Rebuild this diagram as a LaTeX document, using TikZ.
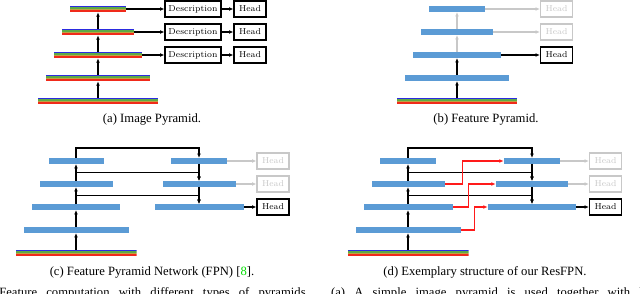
\documentclass[tikz,border=0pt]{standalone}
\usepackage{fontspec}
\usetikzlibrary{arrows.meta,positioning,calc}
\newfontfamily\capfont{Liberation Serif}
\definecolor{PyrBlue}{HTML}{5B9BD5}
\definecolor{PyrGrey}{HTML}{C8C8C8}
\definecolor{PyrRed}{HTML}{FF1A1A}
\definecolor{ImgBlue}{HTML}{2B2BE0}
\definecolor{ImgGreen}{HTML}{5DAA46}
\definecolor{ImgOlive}{HTML}{C0A040}
\definecolor{ImgRed}{HTML}{F02A1A}
\definecolor{CiteGreen}{HTML}{00DD00}
\tikzset{
  feat/.style={fill=PyrBlue, inner sep=0pt, minimum height=5.5*0.7875bp, minimum width=#1*0.7875bp},
  imgbar/.style={inner sep=0pt, minimum height=6*0.7875bp, minimum width=#1*0.7875bp,
    path picture={
      \foreach \c [count=\i] in {ImgBlue,ImgGreen,ImgOlive,ImgRed}
        \fill[\c] ($(path picture bounding box.north west)!{(\i-1)/4}!(path picture bounding box.south west)$)
          rectangle ($(path picture bounding box.north east)!{\i/4}!(path picture bounding box.south east)$);
    }},
  blk/.style={draw=black, line width=0.8pt, minimum height=16*0.7875bp, inner sep=0pt,
              font=\fontsize{6.8}{8}\selectfont},
  descbox/.style={blk, minimum width=56*0.7875bp},
  headbox/.style={blk, minimum width=32*0.7875bp},
  ghost/.style={draw=PyrGrey, text=PyrGrey},
  flow/.style={-{Latex[length=3.5bp,width=3bp]}, line width=0.9bp},
  faded/.style={flow, draw=PyrGrey},
  res/.style={flow, draw=PyrRed},
  captxt/.style={font=\capfont\fontsize{10}{12}\selectfont},
}

\begin{document}
\begin{tikzpicture}[x=0.7875bp, y=-0.7875bp]
  \useasboundingbox (0,0) rectangle (640,294);
  \clip (0,0) rectangle (640,294);

  % (a) image pyramid
  \node[imgbar=56]  (a1) at (98,9) {};
  \node[imgbar=72]  (a2) at (98,32) {};
  \node[imgbar=88]  (a3) at (98,55) {};
  \node[imgbar=104] (a4) at (98,78) {};
  \node[imgbar=120] (a5) at (98,101) {};
  \node[descbox] (ad1) at (193,9) {Description};
  \node[descbox] (ad2) at (193,32) {Description};
  \node[descbox] (ad3) at (193,55) {Description};
  \node[headbox] (ah1) at (250,9) {Head};
  \node[headbox] (ah2) at (250,32) {Head};
  \node[headbox] (ah3) at (250,55) {Head};
  \draw[flow] (a5.north) -- (a4.south);
  \draw[flow] (a4.north) -- (a3.south);
  \draw[flow] (a3.north) -- (a2.south);
  \draw[flow] (a2.north) -- (a1.south);
  \draw[flow] (a1.east) -- (ad1.west);
  \draw[flow] (a2.east) -- (ad2.west);
  \draw[flow] (a3.east) -- (ad3.west);
  \draw[flow] (ad1.east) -- (ah1.west);
  \draw[flow] (ad2.east) -- (ah2.west);
  \draw[flow] (ad3.east) -- (ah3.west);
  \node[captxt] (capa) at (152,119) {(a) Image Pyramid.};

  % (b) feature pyramid
  \node[feat=56]    (b1) at (457,9) {};
  \node[feat=72]    (b2) at (457,32) {};
  \node[feat=88]    (b3) at (457,55) {};
  \node[feat=104]   (b4) at (457,78) {};
  \node[imgbar=120] (b5) at (457,101) {};
  \node[headbox, ghost] (bh1) at (556.5,9) {Head};
  \node[headbox, ghost] (bh2) at (556.5,32) {Head};
  \node[headbox] (bh3) at (556.5,55) {Head};
  \draw[flow] (b5.north) -- (b4.south);
  \draw[flow] (b4.north) -- (b3.south);
  \draw[faded] (b3.north) -- (b2.south);
  \draw[faded] (b2.north) -- (b1.south);
  \draw[faded] (b1.east) -- (bh1.west);
  \draw[faded] (b2.east) -- (bh2.west);
  \draw[flow] (b3.east) -- (bh3.west);
  \node[captxt] (capb) at (486,119) {(b) Feature Pyramid.};

  % (c) FPN
  \node[feat=55]    (cl1) at (76,161) {};
  \node[feat=73]    (cl2) at (76,184) {};
  \node[feat=88]    (cl3) at (76,207) {};
  \node[feat=105]   (cl4) at (76,230) {};
  \node[imgbar=121] (cl5) at (76,253) {};
  \node[feat=56] (cr1) at (199,161) {};
  \node[feat=73] (cr2) at (199,184) {};
  \node[feat=89] (cr3) at (199,207) {};
  \node[headbox, ghost] (ch1) at (273,161) {Head};
  \node[headbox, ghost] (ch2) at (273,184) {Head};
  \node[headbox] (ch3) at (273,207) {Head};
  \draw[flow] (cl5.north) -- (cl4.south);
  \draw[flow] (cl4.north) -- (cl3.south);
  \draw[flow] (cl3.north) -- (cl2.south);
  \draw[flow] (cl2.north) -- (cl1.south);
  \draw[flow] (cl1.north) -- ++(0,-10) -| (cr1.north);
  \draw[flow] ($(cl2.north)!0.5!(cl1.south)$) -| (cr2.north);
  \draw[flow] ($(cl3.north)!0.5!(cl2.south)$) -| (cr3.north);
  \draw[flow] (cr1.south) -- (cr2.north);
  \draw[flow] (cr2.south) -- (cr3.north);
  \draw[faded] (cr1.east) -- (ch1.west);
  \draw[faded] (cr2.east) -- (ch2.west);
  \draw[flow] (cr3.east) -- (ch3.west);
  \node[captxt] (capc) at (152,272) {(c) Feature Pyramid Network (FPN) [{\color{CiteGreen}8}].};

  % (d) ResFPN
  \node[feat=56]    (dl1) at (408,161) {};
  \node[feat=73]    (dl2) at (408,184) {};
  \node[feat=89]    (dl3) at (408,207) {};
  \node[feat=105]   (dl4) at (408,230) {};
  \node[imgbar=121] (dl5) at (408,253) {};
  \node[feat=56] (dr1) at (532,161) {};
  \node[feat=72] (dr2) at (532,184) {};
  \node[feat=88] (dr3) at (532,207) {};
  \node[headbox, ghost] (dh1) at (605.5,161) {Head};
  \node[headbox, ghost] (dh2) at (605.5,184) {Head};
  \node[headbox] (dh3) at (605.5,207) {Head};
  \draw[flow] (dl5.north) -- (dl4.south);
  \draw[flow] (dl4.north) -- (dl3.south);
  \draw[flow] (dl3.north) -- (dl2.south);
  \draw[flow] (dl2.north) -- (dl1.south);
  \draw[flow] (dl1.north) -- ++(0,-10) -| (dr1.north);
  \draw[flow] ($(dl2.north)!0.5!(dl1.south)$) -| (dr2.north);
  \draw[flow] ($(dl3.north)!0.5!(dl2.south)$) -| (dr3.north);
  \draw[flow] (dr1.south) -- (dr2.north);
  \draw[flow] (dr2.south) -- (dr3.north);
  \draw[res] (dl2.east) -- ++(18,0) |- (dr1.west);
  \draw[res] (dl3.east) -- ++(16,0) |- (dr2.west);
  \draw[res] (dl4.east) -- ++(14,0) |- (dr3.west);
  \draw[faded] (dr1.east) -- (dh1.west);
  \draw[faded] (dr2.east) -- (dh2.west);
  \draw[flow] (dr3.east) -- (dh3.west);
  \node[captxt] (capd) at (485,272) {(d) Exemplary structure of our ResFPN.};

  \node[captxt, anchor=base west, inner sep=0pt] (figcap) at (-1,297)
    {\makebox[509bp][s]{Feature computation with different types of pyramids. (a) A simple image pyramid is used together with h}};
\end{tikzpicture}
\end{document}
